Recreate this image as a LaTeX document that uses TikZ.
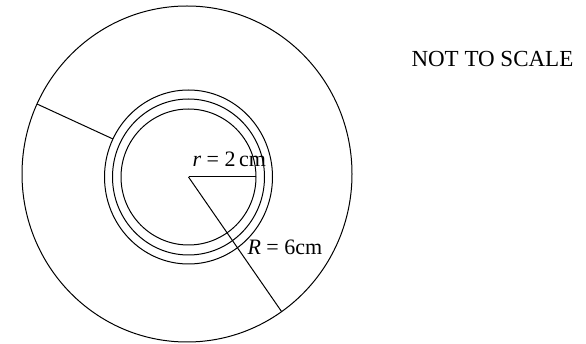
\documentclass[tikz,border=0pt]{standalone}
\usepackage{fontspec}
\setmainfont{Liberation Serif}
\begin{document}
\begin{tikzpicture}[x=1pt,y=-1pt,line width=1pt,
  lbl/.style={font=\fontsize{22}{26}\selectfont,inner sep=0pt,anchor=base west}]
\useasboundingbox (0,0) rectangle (586,344);
% centres
\coordinate (C) at (187,174);
\coordinate (O) at (188.5,177);
% outer circle and rings
\draw (C) ellipse [x radius=165pt, y radius=168pt];
\draw (O) ellipse [x radius=67.5pt, y radius=68pt];
\draw (O) ellipse [x radius=76pt, y radius=78pt];
\draw (O) ellipse [x radius=84pt, y radius=87pt];
% line end points
\coordinate (P1) at (37,104);
\coordinate (P2) at (113,139);
\coordinate (Q) at (256,177);
\coordinate (S) at (281.6,311.6);
\draw (P2) -- (P1);
\draw (O) -- (Q);
\draw (O) -- (S);
% labels
\node[lbl] (rl) at (192,167) {\textit{r} = 2\,cm};
\node[lbl] (Rl) at (247,255) {\textit{R} = 6cm};
\node[lbl,font=\fontsize{23}{27}\selectfont] (nts) at (411,67) {NOT TO SCALE};
\end{tikzpicture}
\end{document}
